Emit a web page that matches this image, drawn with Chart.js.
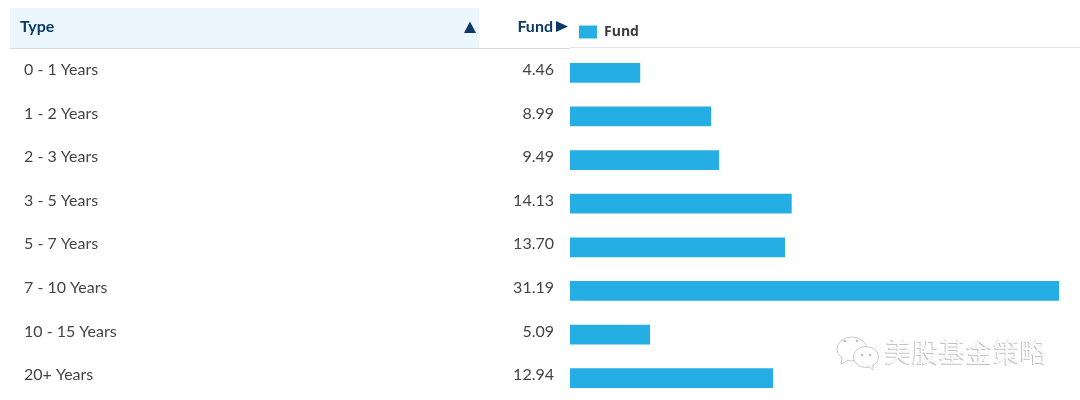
<!DOCTYPE html>
<html>
<head>
<meta charset="utf-8">
<script src="https://cdn.jsdelivr.net/npm/chart.js@4/dist/chart.umd.min.js"></script>
<style>
html,body{margin:0;padding:0;background:#fff;}
#wrap{position:relative;width:1080px;height:400px;}
</style>
</head>
<body>
<div id="wrap"><canvas id="chart"></canvas></div>
<script>
const types = ['0 - 1 Years','1 - 2 Years','2 - 3 Years','3 - 5 Years','5 - 7 Years','7 - 10 Years','10 - 15 Years','20+ Years'];
const fund = [4.46,8.99,9.49,14.13,13.70,31.19,5.09,12.94];
const seriesName = 'Fund';
const headType = 'Type';
const watermark = '美股基金策略';

function triangle(ctx, pts){
    ctx.beginPath();
    ctx.moveTo(pts[0], pts[1]);
    ctx.lineTo(pts[2], pts[3]);
    ctx.lineTo(pts[4], pts[5]);
    ctx.closePath();
    ctx.fill();
}

function bubble(ctx, x, y, rx, ry, tail){
    ctx.beginPath();
    ctx.ellipse(x, y, rx, ry, 0, 0, Math.PI*2);
    ctx.fillStyle = '#fff';
    ctx.fill();
    ctx.strokeStyle = '#c9c9c9';
    ctx.lineWidth = 1;
    ctx.stroke();
    ctx.beginPath();
    ctx.moveTo(tail[0], tail[1]);
    ctx.lineTo(tail[2], tail[3]);
    ctx.lineTo(tail[4], tail[5]);
    ctx.fill();
    ctx.stroke();
}

// header strip goes under the bars
const tableBack = {
    id: 'tableBack',
    afterLayout(c){
        // legend sits closer to the axis and the rule than its own padding allows
        c.legend.left -= 6;
        c.legend.top -= 2;
    },
    beforeDraw(c){
        const ctx = c.ctx;
        ctx.save();
        ctx.fillStyle = '#ebf6fe';
        ctx.fillRect(10, 8, 469, 40);
        ctx.fillStyle = '#d6d9de';
        ctx.fillRect(10, 48, 560, 1);
        ctx.fillStyle = '#e2e4e7';
        ctx.fillRect(570, 47, 510, 1);
        ctx.restore();
    }
};

// the table text and the watermark
const tableText = {
    id: 'tableText',
    afterDraw(c){
        const ctx = c.ctx, y = c.scales.y;
        ctx.save();
        ctx.textBaseline = 'middle';
        ctx.fillStyle = '#0b3a68';
        ctx.font = 'bold 16px Lato';
        ctx.textAlign = 'left';
        ctx.fillText(headType, 20, 27);
        ctx.textAlign = 'right';
        ctx.fillText(seriesName, 553, 27);
        triangle(ctx, [464,33, 476,33, 470,21.5]);
        triangle(ctx, [556,21, 556,32, 568,26.5]);

        ctx.font = '16px Lato';
        ctx.fillStyle = '#444';
        types.forEach((t, i) => {
            const py = y.getPixelForValue(i) - 3;
            ctx.textAlign = 'left';
            ctx.fillText(t, 24, py);
            ctx.textAlign = 'right';
            ctx.fillText(fund[i].toFixed(2), 554, py);
        });

        // wechat mark
        bubble(ctx, 852, 349, 15, 12, [842,357, 841,364, 849,360]);
        bubble(ctx, 866, 357, 12.5, 10.5, [868,366, 873,370, 873,364]);
        ctx.fillStyle = '#bbb';
        [[845,341],[857,341],[862,355],[870,355]].forEach(p => {
            ctx.beginPath();
            ctx.arc(p[0], p[1], 1.3, 0, Math.PI*2);
            ctx.fill();
        });
        ctx.font = '27px "Noto Sans CJK SC"';
        ctx.textAlign = 'left';
        ctx.fillStyle = '#c4c4c4';
        ctx.fillText(watermark, 884, 353);
        ctx.fillStyle = '#fafafa';
        ctx.fillText(watermark, 885, 352);
        ctx.restore();
    }
};

new Chart(document.getElementById('chart'), {
    type: 'bar',
    data: {
        labels: types,
        datasets: [{
            label: seriesName,
            data: fund,
            backgroundColor: '#25aee4',
            borderWidth: 0,
            barThickness: 19
        }]
    },
    options: {
        indexAxis: 'y',
        responsive: true,
        maintainAspectRatio: false,
        animation: false,
        layout: {padding: {left: 570, right: 0, top: 12, bottom: 0}},
        plugins: {
            tooltip: {enabled: false},
            legend: {
                position: 'top',
                align: 'start',
                labels: {
                    boxWidth: 18,
                    boxHeight: 13,
                    padding: 15,
                    color: '#3c3c3c',
                    font: {family: 'Open Sans', size: 14, weight: 'bold'}
                }
            }
        },
        scales: {
            x: {display: false, min: 0, max: 32.55},
            y: {display: false}
        }
    },
    plugins: [tableBack, tableText]
});
</script>
</body>
</html>
